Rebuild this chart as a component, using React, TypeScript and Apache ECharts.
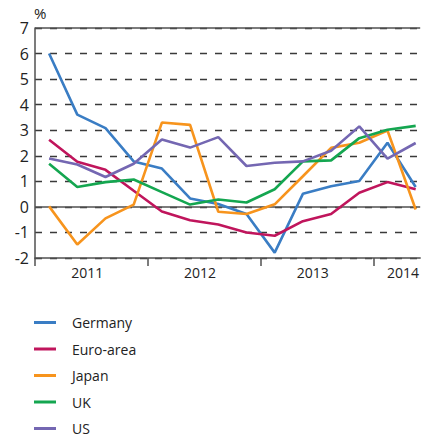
import React, { useEffect, useRef } from "react";
import * as echarts from "echarts";

const quarters = [
  "2011Q1", "2011Q2", "2011Q3", "2011Q4",
  "2012Q1", "2012Q2", "2012Q3", "2012Q4",
  "2013Q1", "2013Q2", "2013Q3", "2013Q4",
  "2014Q1", "2014Q2",
];
const yearLabels = ["2011", "2012", "2013", "2014"];
const seriesNames = ["Germany", "Euro-area", "Japan", "UK", "US"];

const germany = [6.0, 3.61, 3.08, 1.78, 1.5, 0.33, 0.11, -0.28, -1.79, 0.51, 0.81, 1.01, 2.51, 0.78];
const euroArea = [2.63, 1.77, 1.45, 0.63, -0.18, -0.52, -0.69, -1.0, -1.13, -0.56, -0.28, 0.55, 0.97, 0.69];
const japan = [0.02, -1.47, -0.45, 0.09, 3.3, 3.21, -0.19, -0.28, 0.1, 1.2, 2.31, 2.51, 2.99, -0.1];
const uk = [1.69, 0.78, 0.97, 1.07, 0.58, 0.09, 0.29, 0.17, 0.69, 1.78, 1.82, 2.69, 3.02, 3.17];
const us = [1.89, 1.66, 1.17, 1.69, 2.64, 2.32, 2.73, 1.6, 1.73, 1.78, 2.2, 3.15, 1.89, 2.5];

const colors = ["#3a7dc4", "#c0155c", "#f7941d", "#14a650", "#7467b2"];
const FONT = "Open Sans";

export default function App() {
  const ref = useRef<HTMLDivElement>(null);
  useEffect(() => {
    if (!ref.current) return;
    const chart = echarts.init(ref.current, undefined, { renderer: "svg" });
    const values = [germany, euroArea, japan, uk, us];
    const labelPos = [1.85, 5.85, 9.85, 13.05];
    const series: any[] = values.map((vals, k) => ({
      name: seriesNames[k],
      type: "line",
      symbol: "none",
      data: vals.map((v, i) => [quarters.indexOf(quarters[i]) + 0.5, v]),
      lineStyle: { width: 2.6, color: colors[k] },
      itemStyle: { color: colors[k] },
      z: 3,
    }));
    series[0].markLine = {
      silent: true,
      symbol: "none",
      label: { show: false },
      lineStyle: { type: "solid", color: "#505050", width: 1.5 },
      data: [{ yAxis: 0 }, { yAxis: 7 }],
      z: 2,
    };
    chart.setOption({
      animation: false,
      grid: { left: 35, right: 1, top: 28, bottom: 179, containLabel: false },
      legend: {
        orient: "vertical",
        left: 34,
        top: 314.5,
        height: 140,
        padding: 0,
        icon: "rect",
        itemWidth: 22,
        itemHeight: 3,
        itemGap: 10.5,
        data: seriesNames,
        textStyle: {
          fontFamily: FONT,
          fontSize: 14,
          color: "#222",
          lineHeight: 16,
          padding: [0, 0, 0, 11],
        },
      },
      xAxis: {
        type: "value",
        min: 0,
        max: 13.66,
        interval: 1,
        splitLine: { show: false },
        axisLine: { onZero: false, lineStyle: { color: "#505050", width: 1.5 } },
        axisTick: {
          show: true,
          customValues: [0, 4, 8, 12],
          length: 8,
          lineStyle: { color: "#505050", width: 1.5 },
        },
        axisLabel: {
          customValues: labelPos,
          formatter: (v: number) => {
            const idx = labelPos.findIndex((p) => Math.abs(p - v) < 0.01);
            return idx >= 0 ? yearLabels[idx] : "";
          },
          fontFamily: FONT,
          fontSize: 14,
          color: "#222",
          margin: 7,
        },
      },
      yAxis: {
        type: "value",
        min: -2,
        max: 7,
        interval: 1,
        name: "%",
        nameLocation: "end",
        nameGap: 5,
        nameTextStyle: { fontFamily: FONT, fontSize: 15, color: "#222", align: "left", padding: [0, 0, 0, -1] },
        axisLine: { show: true, lineStyle: { color: "#505050", width: 1.5 } },
        axisTick: { show: false },
        axisLabel: { fontFamily: FONT, fontSize: 16, color: "#222", margin: 6 },
        splitLine: {
          show: true,
          lineStyle: { type: [7, 8], color: "#3a3a3a", width: 1.3 },
        },
      },
      series,
    });
    return () => chart.dispose();
  }, []);
  return (
    <div
      ref={ref}
      style={{ position: "fixed", left: 0, top: 0, width: 422, height: 437, background: "#fff" }}
    />
  );
}
